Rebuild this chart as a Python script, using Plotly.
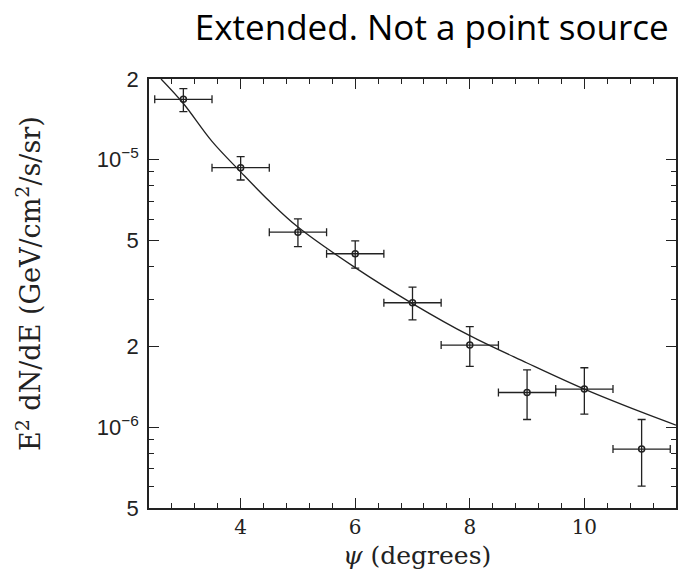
import plotly.graph_objects as go

# Measured surface brightness versus angular distance
psi = [3, 4, 5, 6, 7, 8, 9, 10, 11]
flux = [1.68e-5, 9.33e-6, 5.36e-6, 4.45e-6, 2.92e-6, 2.03e-6, 1.35e-6, 1.39e-6, 8.30e-7]
flux_hi = [1.84e-5, 1.026e-5, 6.01e-6, 4.97e-6, 3.34e-6, 2.38e-6, 1.64e-6, 1.67e-6, 1.07e-6]
flux_lo = [1.51e-5, 8.39e-6, 4.73e-6, 3.93e-6, 2.52e-6, 1.69e-6, 1.07e-6, 1.12e-6, 6.03e-7]
psi_halfwidth = [0.5] * len(psi)

# Model profile for an extended emission region
model_psi = [2.61, 3.0, 3.5, 4.0, 4.5, 5.0, 6.0, 7.0, 8.0, 9.0, 10.0, 11.0, 11.6]
model_flux = [2.0e-5, 1.62e-5, 1.17e-5, 9.0e-6, 7.0e-6, 5.6e-6, 3.95e-6, 2.9e-6,
              2.2e-6, 1.74e-6, 1.39e-6, 1.14e-6, 1.02e-6]

# Axis labelling
y_tickvals = [2e-5, 1e-5, 5e-6, 2e-6, 1e-6, 5e-7]
y_ticktext = ["2", "10<sup>\u22125</sup>", "5", "2", "10<sup>\u22126</sup>", "5"]
y_minor = [6e-7, 7e-7, 8e-7, 9e-7, 3e-6, 4e-6, 6e-6, 7e-6, 8e-6, 9e-6]
x_tickvals = [4, 6, 8, 10]

ink = "#222222"

fig = go.Figure()

fig.add_trace(go.Scatter(
    x=model_psi, y=model_flux, mode="lines",
    line=dict(color=ink, width=1.3, shape="spline", smoothing=1.0),
    hoverinfo="skip", showlegend=False,
))

fig.add_trace(go.Scatter(
    x=psi, y=flux, mode="markers",
    marker=dict(symbol="circle-open", size=6, color=ink, line=dict(width=1.5, color=ink)),
    error_y=dict(type="data", symmetric=False,
                 array=[h - f for h, f in zip(flux_hi, flux)],
                 arrayminus=[f - l for f, l in zip(flux, flux_lo)],
                 color=ink, thickness=1.3, width=4),
    error_x=dict(type="data", array=psi_halfwidth, color=ink, thickness=1.3, width=4),
    showlegend=False,
))

fig.update_xaxes(
    range=[2.4, 11.6], tickvals=x_tickvals, ticks="inside", ticklen=10, tickwidth=1.2,
    tickcolor=ink, showline=True, linecolor=ink, linewidth=1.5, mirror="allticks",
    showgrid=False, zeroline=False,
    tickfont=dict(family="DejaVu Serif", size=20, color=ink),
    minor=dict(ticks="inside", ticklen=5, tickwidth=1, tickcolor=ink, dtick=0.4, tick0=2.4),
)
fig.update_yaxes(
    type="log", range=[-6.30103, -4.69897], tickvals=y_tickvals, ticktext=y_ticktext,
    ticks="inside", ticklen=10, tickwidth=1.2, tickcolor=ink,
    showline=True, linecolor=ink, linewidth=1.5, mirror="allticks",
    showgrid=False, zeroline=False, ticklabelstandoff=4,
    tickfont=dict(family="Liberation Sans", size=22, color=ink),
    minor=dict(ticks="inside", ticklen=5, tickwidth=1, tickcolor=ink, tickvals=y_minor),
)

fig.update_layout(
    width=680, height=571,
    margin=dict(l=149, r=2, t=79, b=63),
    paper_bgcolor="white", plot_bgcolor="white",
    title=dict(text="Extended. Not a point source", xref="container", yref="container",
               x=0.635, y=0.951, xanchor="center", yanchor="middle",
               font=dict(family="Open Sans", size=35, color="black")),
    annotations=[
        dict(text="<i>\u03c8</i> (degrees)", xref="paper", yref="paper", x=0.5076, y=-0.1096,
             xanchor="center", yanchor="middle", showarrow=False,
             font=dict(family="DejaVu Serif", size=25, color=ink)),
        dict(text="E<sup>2</sup> dN/dE (GeV/cm<sup>2</sup>/s/sr)", xref="paper", yref="paper",
             x=-0.2287, y=0.5233, xanchor="center", yanchor="middle", textangle=-90,
             showarrow=False, font=dict(family="DejaVu Serif", size=27, color=ink)),
    ],
)

fig.write_html("out.html")
